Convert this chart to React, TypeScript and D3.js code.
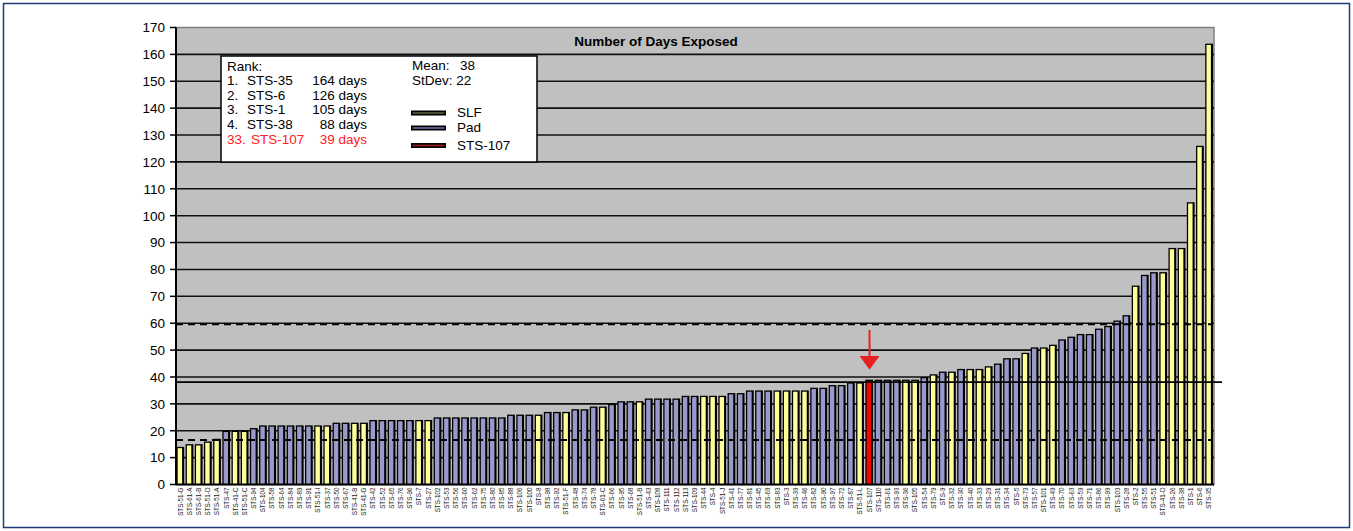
import React from 'react';
import * as d3 from 'd3';

// mission labels, left to right (sorted by days exposed)
const missions: string[] = [
  'STS-51-G', 'STS-61-A', 'STS-61-B', 'STS-51-D', 'STS-51-A', 'STS-47', 'STS-41-C', 'STS-51-C', 'STS-94', 'STS-104',
  'STS-58', 'STS-64', 'STS-84', 'STS-89', 'STS-91', 'STS-51-I', 'STS-37', 'STS-50', 'STS-67', 'STS-41-B',
  'STS-41-G', 'STS-42', 'STS-52', 'STS-65', 'STS-76', 'STS-96', 'STS-7', 'STS-27', 'STS-102', 'STS-53',
  'STS-56', 'STS-60', 'STS-62', 'STS-75', 'STS-80', 'STS-85', 'STS-88', 'STS-106', 'STS-100', 'STS-8',
  'STS-98', 'STS-92', 'STS-51-F', 'STS-48', 'STS-74', 'STS-78', 'STS-61-C', 'STS-66', 'STS-95', 'STS-68',
  'STS-51-B', 'STS-43', 'STS-108', 'STS-111', 'STS-112', 'STS-113', 'STS-109', 'STS-44', 'STS-4', 'STS-51-J',
  'STS-41', 'STS-77', 'STS-81', 'STS-45', 'STS-69', 'STS-83', 'STS-3', 'STS-39', 'STS-46', 'STS-82',
  'STS-90', 'STS-97', 'STS-72', 'STS-87', 'STS-51-L', 'STS-107', 'STS-110', 'STS-61', 'STS-93', 'STS-36',
  'STS-105', 'STS-54', 'STS-79', 'STS-9', 'STS-32', 'STS-30', 'STS-40', 'STS-33', 'STS-29', 'STS-31',
  'STS-34', 'STS-5', 'STS-73', 'STS-57', 'STS-101', 'STS-49', 'STS-70', 'STS-63', 'STS-59', 'STS-71',
  'STS-86', 'STS-99', 'STS-103', 'STS-28', 'STS-2', 'STS-55', 'STS-51', 'STS-41-D', 'STS-26', 'STS-38',
  'STS-1', 'STS-6', 'STS-35',
];

const days: number[] = [
  14, 15, 15, 16, 17, 20, 20, 20, 21, 22,
  22, 22, 22, 22, 22, 22, 22, 23, 23, 23,
  23, 24, 24, 24, 24, 24, 24, 24, 25, 25,
  25, 25, 25, 25, 25, 25, 26, 26, 26, 26,
  27, 27, 27, 28, 28, 29, 29, 30, 31, 31,
  31, 32, 32, 32, 32, 33, 33, 33, 33, 33,
  34, 34, 35, 35, 35, 35, 35, 35, 35, 36,
  36, 37, 37, 38, 38, 39, 39, 39, 39, 39,
  39, 40, 41, 42, 42, 43, 43, 43, 44, 45,
  47, 47, 49, 51, 51, 52, 54, 55, 56, 56,
  58, 59, 61, 63, 74, 78, 79, 79, 88, 88,
  105, 126, 164,
];

// S = SLF, P = Pad, X = STS-107
const site: string[] = [
  'S', 'S', 'S', 'S', 'S', 'P', 'S', 'S', 'P', 'P',
  'P', 'P', 'P', 'P', 'P', 'S', 'S', 'P', 'P', 'S',
  'S', 'P', 'P', 'P', 'P', 'P', 'S', 'S', 'P', 'P',
  'P', 'P', 'P', 'P', 'P', 'P', 'P', 'P', 'P', 'S',
  'P', 'P', 'S', 'P', 'P', 'P', 'S', 'P', 'P', 'P',
  'S', 'P', 'P', 'P', 'P', 'P', 'P', 'S', 'S', 'S',
  'P', 'P', 'P', 'P', 'P', 'S', 'S', 'S', 'S', 'P',
  'P', 'P', 'P', 'P', 'S', 'X', 'P', 'P', 'P', 'S',
  'S', 'P', 'S', 'P', 'S', 'P', 'S', 'S', 'S', 'P',
  'P', 'P', 'S', 'P', 'S', 'S', 'P', 'P', 'P', 'P',
  'P', 'P', 'P', 'P', 'S', 'P', 'P', 'S', 'S', 'S',
  'S', 'S', 'S',
];

const yTicks: number[] = d3.range(0, 171, 10);

const rankRows = [
  { n: '1.', m: 'STS-35', d: '164 days' },
  { n: '2.', m: 'STS-6', d: '126 days' },
  { n: '3.', m: 'STS-1', d: '105 days' },
  { n: '4.', m: 'STS-38', d: '88 days' },
];
const meanDays = 38;
const stDev = 22;
const meanLine = 38.1;
const upperLine = 59.6;
const lowerLine = 16.6;

const fillFor: Record<string, string> = { S: '#ffff99', P: '#9999cc', X: '#ff0000' };

const App = () => {
  const left = 176, right = 1214, top = 27.5, bottom = 484.5;
  const x = d3.scaleBand<string>().domain(missions).range([left, right]);
  const y = d3.scaleLinear().domain([0, 170]).range([bottom, top]);
  const bw = x.bandwidth();
  const font = 'Arial, "Liberation Sans", sans-serif';
  const redX = (x('STS-107') as number) + bw / 2;
  const redTop = y(days[missions.indexOf('STS-107')]);

  return (
    <svg width={1353} height={531} style={{ position: 'absolute', left: 0, top: 0, background: '#fff' }}
      fontFamily={font}>
      <rect x={3.5} y={3.5} width={1346} height={524} fill="none" stroke="#1f3b7a" strokeWidth={1.5} />

      {/* plot background */}
      <rect x={left} y={top} width={right - left} height={bottom - top} fill="#c0c0c0"
        stroke="#808080" strokeWidth={1.5} />

      {/* gridlines */}
      {yTicks.filter(t => t > 0 && t < 170).map(t => (
        <line key={t} x1={left} x2={right} y1={y(t)} y2={y(t)} stroke="#111" strokeWidth={1.6} />
      ))}

      {/* bars */}
      {missions.map((m, i) => {
        const x0 = x(m) as number;
        const yt = y(days[i]);
        return (
          <g key={m}>
            <rect x={x0 + 0.4} y={yt} width={7.8} height={bottom - yt} fill="#000" />
            <rect x={x0 + 1.7} y={yt + 1.3} width={4.4} height={bottom - yt - 1.3} fill={fillFor[site[i]]} />
          </g>
        );
      })}

      {/* mean and +/- stdev lines */}
      <line x1={left} x2={right - 2} y1={y(upperLine)} y2={y(upperLine)} stroke="#000" strokeWidth={2}
        strokeDasharray="7,5" />
      <line x1={left} x2={right - 2} y1={y(lowerLine)} y2={y(lowerLine)} stroke="#000" strokeWidth={2}
        strokeDasharray="7,5" />
      <line x1={left} x2={1222} y1={y(meanLine)} y2={y(meanLine)} stroke="#000" strokeWidth={1.6} />

      {/* axes */}
      <line x1={left} x2={left} y1={top} y2={bottom} stroke="#000" strokeWidth={2} />
      <line x1={left} x2={right} y1={bottom} y2={bottom} stroke="#000" strokeWidth={2} />
      {yTicks.map(t => (
        <g key={t}>
          <line x1={170} x2={left} y1={y(t)} y2={y(t)} stroke="#000" strokeWidth={1.5} />
          <text x={165} y={y(t)} dy="0.36em" textAnchor="end" fontSize={13.5}>{t}</text>
        </g>
      ))}

      {/* x labels */}
      {missions.map(m => {
        const cx = (x(m) as number) + bw / 2 + 2;
        return (
          <text key={m} transform={`translate(${cx},${bottom + 3}) rotate(-90)`} textAnchor="end"
            fontSize={6.3} fill="#222">{m}</text>
        );
      })}

      <text x={656} y={46} textAnchor="middle" fontSize={13.5} fontWeight="bold">Number of Days Exposed</text>

      {/* red arrow at STS-107 */}
      <line x1={redX} x2={redX} y1={330} y2={357} stroke="#e82020" strokeWidth={2} />
      <path d={`M${redX - 10},356 L${redX + 10},356 L${redX},${redTop - 10} Z`} fill="#e82020" />

      {/* info box */}
      <rect x={221} y={56} width={316} height={106} fill="#fff" stroke="#000" strokeWidth={1.5} />
      <g fontSize={13.5}>
        <text x={227} y={71}>Rank:</text>
        {rankRows.map((r, i) => (
          <g key={r.m}>
            <text x={227} y={85 + i * 14.7}>{r.n}</text>
            <text x={247} y={85 + i * 14.7}>{r.m}</text>
            <text x={367} y={85 + i * 14.7} textAnchor="end">{r.d}</text>
          </g>
        ))}
        <g fill="#ff2020">
          <text x={227} y={144}>33.</text>
          <text x={251} y={144}>STS-107</text>
          <text x={367} y={144} textAnchor="end">39 days</text>
        </g>
        <text x={412} y={70}>Mean:</text>
        <text x={460} y={70}>{meanDays}</text>
        <text x={412} y={85}>StDev: {stDev}</text>
        {[
          { label: 'SLF', c: '#5c5c3a', yy: 113 },
          { label: 'Pad', c: '#6a6aa6', yy: 128 },
          { label: 'STS-107', c: '#9a2020', yy: 145.5 },
        ].map(l => (
          <g key={l.label}>
            <rect x={411} y={l.yy - 2.5} width={35} height={5} fill="#000" />
            <rect x={412.5} y={l.yy - 0.8} width={32} height={1.6} fill={l.c} />
            <text x={457} y={l.yy + 4}>{l.label}</text>
          </g>
        ))}
      </g>
    </svg>
  );
};

export default App;
